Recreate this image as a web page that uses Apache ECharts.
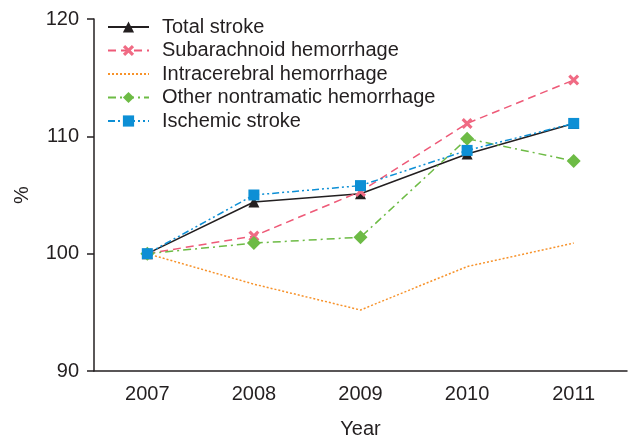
<!DOCTYPE html>
<html>
<head>
<meta charset="utf-8">
<script src="https://cdn.jsdelivr.net/npm/echarts@6/dist/echarts.min.js"></script>
<style>
  html, body { margin: 0; padding: 0; background: #fff; }
  #chart { width: 630px; height: 438px; }
</style>
</head>
<body>
<div id="chart"></div>
<script>
const years = ['2007', '2008', '2009', '2010', '2011']
const totalStroke = [100, 104.4, 105.1, 108.5, 111.1]
const subarachnoid = [100, 101.5, 105.3, 111.1, 114.8]
const intracerebral = [100, 97.4, 95.2, 98.9, 100.9]
const otherNontraumatic = [100, 100.9, 101.4, 109.8, 107.9]
const ischemic = [100, 105.0, 105.8, 108.8, 111.1]

const textColor = '#231f20'
const crossPath = 'path://M0,2 L2,0 L5,3 L8,0 L10,2 L7,5 L10,8 L8,10 L5,7 L2,10 L0,8 L3,5 Z'

const chart = echarts.init(document.getElementById('chart'))
chart.setOption({
  animation: false,
  textStyle: { fontFamily: 'Liberation Sans, Arial, sans-serif' },
  grid: { left: 94, right: 3, top: 19, bottom: 67, outerBoundsMode: 'none', containLabel: false },
  legend: {
    orient: 'vertical',
    left: 102,
    top: 11,
    itemWidth: 41,
    itemHeight: 14,
    itemGap: 1.5,
    textStyle: { fontSize: 20, lineHeight: 22, color: textColor, padding: [0, 0, 0, 8] },
    data: [
      'Total stroke',
      'Subarachnoid hemorrhage',
      { name: 'Intracerebral hemorrhage', itemStyle: { opacity: 0 } },
      'Other nontramatic hemorrhage',
      'Ischemic stroke'
    ]
  },
  xAxis: {
    type: 'category',
    data: years,
    name: 'Year',
    nameLocation: 'middle',
    nameGap: 48,
    nameTextStyle: { fontSize: 20, color: textColor },
    axisLine: { lineStyle: { color: textColor, width: 1.5 } },
    axisTick: { length: 7, lineStyle: { color: textColor, width: 1.5 } },
    axisLabel: { fontSize: 20, color: textColor, margin: 13 }
  },
  yAxis: {
    type: 'value',
    min: 90,
    max: 120,
    interval: 10,
    name: '%',
    nameLocation: 'middle',
    nameGap: 62,
    nameRotate: 90,
    nameTextStyle: { fontSize: 20, color: textColor },
    axisLine: { show: true, lineStyle: { color: textColor, width: 1.5 } },
    axisTick: { show: true, length: 7, lineStyle: { color: textColor, width: 1.5 } },
    axisLabel: { fontSize: 20, color: textColor, margin: 15 },
    splitLine: { show: false }
  },
  series: [
    {
      name: 'Total stroke',
      type: 'line',
      data: totalStroke,
      symbol: 'triangle',
      symbolSize: 11,
      itemStyle: { color: '#231f20' },
      lineStyle: { color: '#231f20', width: 1.5, type: 'solid' }
    },
    {
      name: 'Subarachnoid hemorrhage',
      type: 'line',
      data: subarachnoid,
      symbol: crossPath,
      symbolSize: 11,
      itemStyle: { color: '#f06b84' },
      lineStyle: { color: '#ee5a78', width: 1.5, type: [8, 5] }
    },
    {
      name: 'Intracerebral hemorrhage',
      type: 'line',
      data: intracerebral,
      symbol: 'none',
      itemStyle: { color: '#f7922a' },
      lineStyle: { color: '#f7922a', width: 1.5, type: [2, 2] }
    },
    {
      name: 'Other nontramatic hemorrhage',
      type: 'line',
      data: otherNontraumatic,
      symbol: 'diamond',
      symbolSize: 14,
      itemStyle: { color: '#6dbb45' },
      lineStyle: { color: '#6dbb45', width: 1.5, type: [8, 4, 2, 4] }
    },
    {
      name: 'Ischemic stroke',
      type: 'line',
      data: ischemic,
      symbol: 'rect',
      symbolSize: 11,
      itemStyle: { color: '#0d8fd5' },
      lineStyle: { color: '#0d8fd5', width: 1.5, type: [7, 3, 2, 3, 2, 3] }
    }
  ]
})
</script>
</body>
</html>
